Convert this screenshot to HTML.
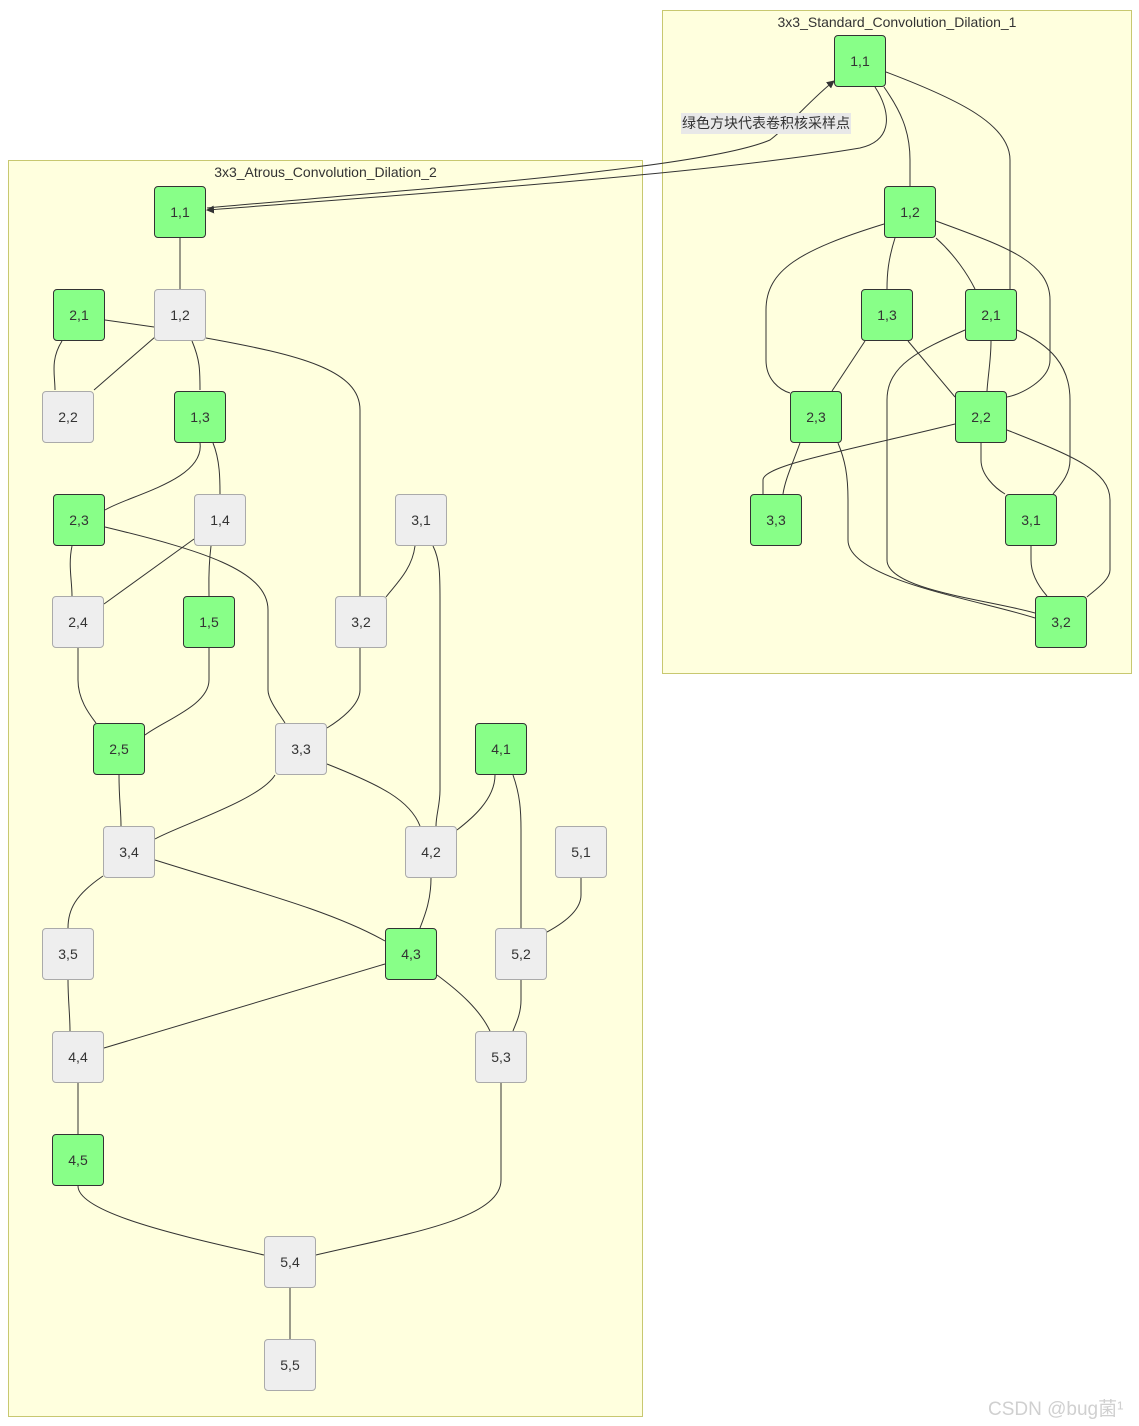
<!DOCTYPE html>
<html><head><meta charset="utf-8"><style>
body{margin:0;background:#fff;width:1139px;height:1426px;overflow:hidden;position:relative;font-family:"Liberation Sans","Noto Sans CJK SC",sans-serif}
.c{position:absolute;background:#ffffde;border:1px solid #c8c870;box-sizing:border-box}
.t{position:absolute;font-size:14px;color:#333;text-align:center;width:100%;top:3px}
.n{position:absolute;width:52px;height:52px;box-sizing:border-box;border-radius:4px;display:flex;align-items:center;justify-content:center;font-size:14px;color:#333}
.g{background:#88ff88;border:1px solid #333}
.w{background:#eeeeee;border:1px solid #aaa}
svg{position:absolute;left:0;top:0}
</style></head><body>
<div class="c" style="left:662px;top:10px;width:470px;height:664px"><div class="t">3x3_Standard_Convolution_Dilation_1</div></div>
<div class="c" style="left:8px;top:160px;width:635px;height:1257px"><div class="t">3x3_Atrous_Convolution_Dilation_2</div></div>
<svg width="1139" height="1426" fill="none" stroke="#333" stroke-width="1">
<defs><marker id="a" markerWidth="8" markerHeight="8" refX="7" refY="4" orient="auto"><path d="M0,0L8,4L0,8z" fill="#333" stroke="none"/></marker></defs>
<path d="M875,87 C890,110 895,140 860,148 C700,175 400,195 207,210" marker-end="url(#a)"/>
<path d="M207,208 C400,190 700,170 770,140 C790,125 810,100 834,81" marker-end="url(#a)"/>
<path d="M180,238V289"/><path d="M105,320L154,327"/><path d="M62,341C50,360 55,375 55,390"/>
<path d="M155,337L94,390"/><path d="M192,341C200,360 200,370 200,390"/>
<path d="M206,338C300,355 360,370 360,410V596"/><path d="M200,443C205,480 130,495 105,510"/>
<path d="M213,443C220,460 220,480 220,494"/><path d="M72,546C68,565 72,580 72,596"/>
<path d="M105,527C200,550 268,570 268,610V690C268,700 280,715 285,723"/>
<path d="M194,539L104,604"/><path d="M211,546C208,570 209,585 209,596"/>
<path d="M415,546C412,570 395,585 386,597"/><path d="M433,546C440,560 440,575 440,600V790C440,805 436,815 436,826"/>
<path d="M78,648V680C78,700 90,715 96,723"/><path d="M209,648V680C209,705 165,720 145,735"/>
<path d="M360,648V690C360,705 340,720 327,728"/><path d="M119,775C119,800 121,810 121,826"/>
<path d="M275,775C260,800 180,825 155,839"/><path d="M327,764C380,785 410,800 420,826"/>
<path d="M495,775C495,800 470,820 457,830"/><path d="M513,775C520,795 521,810 521,830V928"/>
<path d="M103,876C75,895 68,910 68,928"/><path d="M155,860C250,890 330,910 385,941"/>
<path d="M431,878C431,900 425,915 420,928"/><path d="M581,878V895C581,912 560,925 547,932"/>
<path d="M68,980C68,1000 70,1015 70,1031"/><path d="M385,964L104,1048"/>
<path d="M437,975C460,992 480,1010 490,1031"/><path d="M521,980V1000C521,1015 515,1025 513,1031"/>
<path d="M78,1083V1134"/><path d="M78,1186C78,1215 200,1240 264,1255"/>
<path d="M501,1083V1180C501,1220 400,1235 316,1255"/><path d="M290,1288V1339"/>
<path d="M884,87C900,110 910,130 910,160V186"/><path d="M886,72C960,100 1010,125 1010,160V289"/>
<path d="M895,238C888,260 887,275 887,289"/><path d="M884,224C800,250 766,270 766,310V360C766,380 780,390 790,393"/>
<path d="M936,238C955,255 968,275 975,289"/><path d="M936,221C1000,245 1050,260 1050,300V360C1050,380 1020,395 1007,397"/>
<path d="M865,341L832,391"/><path d="M908,341L955,397"/><path d="M991,341C991,360 988,375 987,391"/>
<path d="M965,330C920,350 887,365 887,400V560C887,590 990,600 1035,613"/>
<path d="M1017,330C1050,345 1070,365 1070,400V460C1070,475 1060,485 1053,494"/>
<path d="M800,443C792,465 785,480 783,494"/><path d="M955,424C850,450 763,465 763,480V494"/>
<path d="M838,443C845,460 848,475 848,500V540C848,580 980,600 1035,618"/>
<path d="M981,443V460C981,475 995,488 1005,494"/><path d="M1007,430C1070,455 1110,470 1110,500V570C1110,580 1095,590 1087,597"/>
<path d="M1031,546V560C1031,575 1040,588 1047,596"/>
</svg>
<div style="position:absolute;left:681px;top:113px;background:#e8e8e8;font-size:14px;color:#333;padding:0 1px;line-height:21px">绿色方块代表卷积核采样点</div>
<div class="n g" style="left:154px;top:186px">1,1</div>
<div class="n g" style="left:53px;top:289px">2,1</div>
<div class="n w" style="left:154px;top:289px">1,2</div>
<div class="n w" style="left:42px;top:391px">2,2</div>
<div class="n g" style="left:174px;top:391px">1,3</div>
<div class="n g" style="left:53px;top:494px">2,3</div>
<div class="n w" style="left:194px;top:494px">1,4</div>
<div class="n w" style="left:395px;top:494px">3,1</div>
<div class="n w" style="left:52px;top:596px">2,4</div>
<div class="n g" style="left:183px;top:596px">1,5</div>
<div class="n w" style="left:335px;top:596px">3,2</div>
<div class="n g" style="left:93px;top:723px">2,5</div>
<div class="n w" style="left:275px;top:723px">3,3</div>
<div class="n g" style="left:475px;top:723px">4,1</div>
<div class="n w" style="left:103px;top:826px">3,4</div>
<div class="n w" style="left:405px;top:826px">4,2</div>
<div class="n w" style="left:555px;top:826px">5,1</div>
<div class="n w" style="left:42px;top:928px">3,5</div>
<div class="n g" style="left:385px;top:928px">4,3</div>
<div class="n w" style="left:495px;top:928px">5,2</div>
<div class="n w" style="left:52px;top:1031px">4,4</div>
<div class="n w" style="left:475px;top:1031px">5,3</div>
<div class="n g" style="left:52px;top:1134px">4,5</div>
<div class="n w" style="left:264px;top:1236px">5,4</div>
<div class="n w" style="left:264px;top:1339px">5,5</div>
<div class="n g" style="left:834px;top:35px">1,1</div>
<div class="n g" style="left:884px;top:186px">1,2</div>
<div class="n g" style="left:861px;top:289px">1,3</div>
<div class="n g" style="left:965px;top:289px">2,1</div>
<div class="n g" style="left:790px;top:391px">2,3</div>
<div class="n g" style="left:955px;top:391px">2,2</div>
<div class="n g" style="left:750px;top:494px">3,3</div>
<div class="n g" style="left:1005px;top:494px">3,1</div>
<div class="n g" style="left:1035px;top:596px">3,2</div>
<div style="position:absolute;left:988px;top:1394px;font-size:19px;color:#d0d0d0">CSDN @bug菌¹</div>
</body></html>
